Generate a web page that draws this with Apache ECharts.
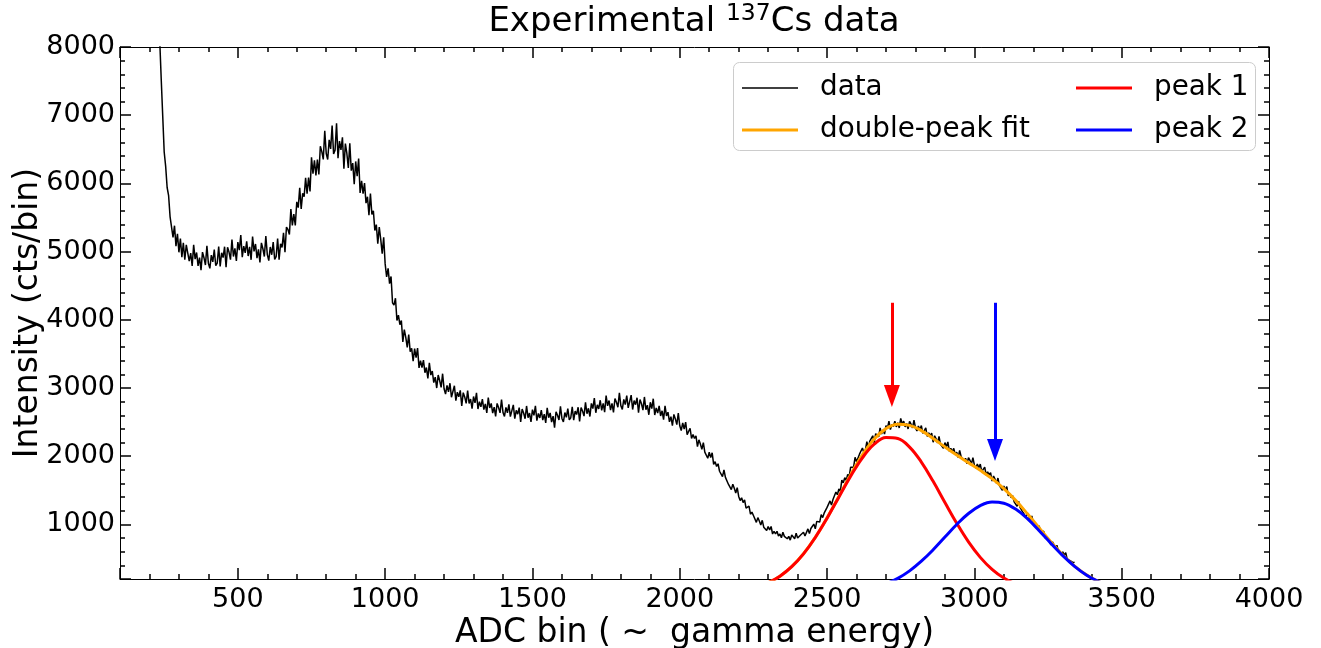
<!DOCTYPE html>
<html>
<head>
<meta charset="utf-8">
<title>Experimental 137Cs data</title>
<script src="https://cdn.jsdelivr.net/npm/echarts@6/dist/echarts.min.js"></script>
<style>
  html, body { margin: 0; padding: 0; background: #fff; }
  #chart { width: 1321px; height: 648px; }
</style>
</head>
<body>
<div id="chart"></div>
<script>
// measured spectrum: counts every 5 ADC bins starting at bin 230
const dataBin0 = 230;
const dataBinStep = 5;
const dataCounts = [
  8600, 8080, 7520, 6990, 6460, 6250, 5940, 5820, 5510, 5520, 5210, 5380, 5080, 5260, 4990, 5190, 4920, 5130, 4880, 5100,
  5075, 4860, 4978, 4789, 5099, 4889, 4987, 4790, 4913, 4729, 4992, 4911, 4803, 5085, 4829, 4754, 4949, 4850, 5031, 4793,
  4832, 5073, 4784, 4984, 4913, 5072, 4770, 5065, 4994, 4881, 5177, 4928, 5047, 4862, 5139, 5021, 5244, 4918, 5081, 4981,
  5152, 4935, 5071, 4880, 5220, 5003, 5112, 4903, 5034, 4843, 5129, 5042, 4928, 5228, 4956, 4869, 5068, 4954, 5140, 4886,
  4925, 5190, 4880, 5115, 5060, 5275, 4990, 5360, 5325, 5250, 5625, 5385, 5550, 5385, 5730, 5645, 5935, 5625, 5855, 5805,
  6082, 5849, 6084, 5882, 6382, 6144, 6338, 6118, 6348, 6131, 6544, 6466, 6352, 6773, 6438, 6350, 6640, 6506, 6850, 6431,
  6485, 6880, 6370, 6621, 6492, 6676, 6214, 6583, 6439, 6228, 6587, 6186, 6298, 5987, 6322, 6106, 6365, 5859, 6037, 5849,
  6005, 5710, 5805, 5535, 5850, 5545, 5600, 5310, 5395, 5115, 5360, 5180, 4970, 5210, 4820, 4630, 4755, 4530, 4635, 4250,
  4215, 4317, 3990, 4069, 3928, 3989, 3676, 3857, 3741, 3597, 3783, 3534, 3582, 3393, 3578, 3444, 3585, 3296, 3403, 3301,
  3410, 3225, 3300, 3140, 3370, 3190, 3250, 3080, 3160, 3000, 3190, 3110, 3010, 3210, 2990, 2910, 3040, 2945, 3070, 2865,
  2882, 3034, 2815, 2938, 2871, 2966, 2737, 2932, 2870, 2774, 2964, 2773, 2839, 2696, 2876, 2782, 2928, 2692, 2799, 2724,
  2838, 2684, 2768, 2634, 2859, 2707, 2775, 2632, 2719, 2585, 2774, 2713, 2635, 2832, 2643, 2583, 2716, 2637, 2761, 2581,
  2605, 2753, 2550, 2674, 2617, 2713, 2504, 2691, 2634, 2550, 2737, 2564, 2633, 2504, 2682, 2599, 2740, 2521, 2627, 2562,
  2676, 2529, 2617, 2489, 2711, 2564, 2634, 2499, 2589, 2420, 2652, 2600, 2531, 2732, 2554, 2502, 2640, 2571, 2699, 2533,
  2564, 2725, 2528, 2662, 2612, 2718, 2511, 2712, 2664, 2588, 2790, 2623, 2703, 2582, 2774, 2699, 2853, 2637, 2753, 2693,
  2821, 2673, 2774, 2645, 2888, 2739, 2817, 2676, 2775, 2644, 2846, 2791, 2718, 2930, 2742, 2687, 2833, 2756, 2890, 2709,
  2737, 2896, 2685, 2816, 2756, 2858, 2637, 2832, 2770, 2676, 2869, 2681, 2749, 2608, 2791, 2698, 2843, 2604, 2709, 2632,
  2737, 2590, 2666, 2536, 2739, 2591, 2646, 2505, 2579, 2447, 2613, 2547, 2464, 2634, 2446, 2377, 2488, 2399, 2499, 2317,
  2340, 2410, 2260, 2320, 2260, 2300, 2140, 2240, 2180, 2100, 2200, 2060, 2080, 1970, 2060, 1980, 2050, 1880, 1920, 1850,
  1890, 1780, 1800, 1700, 1800, 1690, 1700, 1590, 1610, 1510, 1590, 1530, 1460, 1540, 1410, 1350, 1390, 1320, 1360, 1240,
  1230, 1270, 1150, 1180, 1130, 1150, 1030, 1100, 1050, 990, 1060, 960, 980, 910, 970, 920, 970, 860, 900, 860,
  900, 830, 860, 805, 885, 825, 850, 790, 825, 770, 845, 820, 790, 870, 800, 785, 845, 825, 885, 830,
  850, 935, 865, 940, 935, 1005, 935, 1045, 1045, 1035, 1145, 1100, 1165, 1140, 1250, 1250, 1345, 1285, 1365, 1375,
  1475, 1435, 1520, 1485, 1650, 1610, 1685, 1645, 1735, 1700, 1840, 1845, 1840, 1985, 1920, 1920, 2030, 2020, 2120, 2050,
  2090, 2215, 2120, 2220, 2215, 2300, 2195, 2330, 2315, 2285, 2415, 2325, 2385, 2325, 2450, 2410, 2515, 2390, 2465, 2435,
  2515, 2430, 2490, 2415, 2555, 2470, 2515, 2430, 2480, 2400, 2510, 2470, 2415, 2530, 2415, 2370, 2445, 2385, 2450, 2335,
  2340, 2415, 2290, 2345, 2300, 2340, 2205, 2300, 2255, 2195, 2290, 2175, 2200, 2115, 2200, 2140, 2210, 2070, 2115, 2065,
  2115, 2025, 2060, 1980, 2085, 1995, 2020, 1935, 1970, 1890, 1980, 1940, 1885, 1980, 1870, 1825, 1885, 1830, 1885, 1775,
  1775, 1840, 1725, 1770, 1725, 1760, 1635, 1710, 1665, 1605, 1680, 1570, 1585, 1500, 1565, 1505, 1555, 1420, 1450, 1390,
  1420, 1330, 1345, 1265, 1340, 1250, 1260, 1175, 1190, 1110, 1165, 1120, 1060, 1125, 1020, 970, 1005, 950, 980, 880,
  870, 900, 805, 825, 785, 795, 700, 745, 705, 650, 695, 615, 620, 555, 600, 550, 585, 490, 510, 470,
  480, 440, 445
];

// fitted curves
const fitBins = [
  2260, 2300, 2340, 2380, 2420, 2460, 2500, 2540, 2580, 2620,
  2660, 2700, 2740, 2780, 2820, 2860, 2900, 2940, 2980, 3020,
  3060, 3100, 3140, 3180, 3220, 3260, 3300, 3340, 3380, 3420, 3460
];
const doubleFit = [
  84, 146, 242, 381, 570, 811, 1097, 1411, 1730, 2020,
  2253, 2405, 2469, 2453, 2376, 2261, 2137, 2017, 1904, 1793,
  1671, 1525, 1353, 1156, 947, 741, 552, 390, 262, 167, 101
];
const peak1Fit = [
  84, 146, 242, 381, 569, 809, 1092, 1400, 1707, 1977,
  2176, 2275, 2260, 2134, 1915, 1632, 1322, 1018, 744, 517,
  342, 214, 128, 72, 39, 20, 10, 4, 2, 1, 0
];
const peak2Fit = [
  0, 0, 0, 0, 1, 2, 5, 11, 23, 43,
  77, 130, 209, 319, 461, 629, 815, 999, 1160, 1276,
  1329, 1311, 1225, 1084, 908, 721, 542, 386, 260, 166, 101
];

// arrows marking the two peaks
const arrowBins = [2720, 3070];
const arrowTop = [4250, 4250];
const arrowEnd = [2884, 2093];

const FONT = 'DejaVu Sans';

const dataSeries = dataCounts.map((v, i) => [dataBin0 + i * dataBinStep, v]);
const pairs = (ys) => fitBins.map((x, i) => [x, ys[i]]);

// matplotlib style axes: major + minor ticks, pointing in, on all four sides
const xAxisDef = (pos, minor, main) => ({
  type: 'value',
  position: pos,
  min: 100,
  max: 4000,
  splitNumber: minor ? undefined : 8,
  interval: minor ? 100 : undefined,
  axisLine: { show: !minor, onZero: false, lineStyle: { color: '#000', width: 1 } },
  axisTick: { show: true, inside: true, length: minor ? 5 : 11, lineStyle: { color: '#000', width: 1.5 } },
  axisLabel: {
    show: !!main,
    margin: 7,
    color: '#000',
    fontSize: 27,
    fontFamily: FONT,
    formatter: (v) => (v % 500 === 0 ? String(v) : '')
  },
  splitLine: { show: false },
  name: main ? 'ADC bin ( ~  gamma energy)' : '',
  nameLocation: 'middle',
  nameGap: 38,
  nameMoveOverlap: false,
  nameTextStyle: { fontSize: 33, fontFamily: FONT, color: '#000' }
});

const yAxisDef = (pos, minor, main) => ({
  type: 'value',
  position: pos,
  min: 200,
  max: 8000,
  splitNumber: minor ? undefined : 8,
  interval: minor ? 200 : undefined,
  axisLine: { show: !minor, onZero: false, lineStyle: { color: '#000', width: 1 } },
  axisTick: { show: true, inside: true, length: minor ? 5 : 11, lineStyle: { color: '#000', width: 1.5 } },
  axisLabel: {
    show: !!main,
    margin: 5,
    color: '#000',
    fontSize: 27,
    fontFamily: FONT,
    formatter: (v) => (v % 1000 === 0 ? String(v) : '')
  },
  splitLine: { show: false },
  name: main ? 'Intensity (cts/bin)' : '',
  nameLocation: 'middle',
  nameGap: 75,
  nameMoveOverlap: false,
  nameTextStyle: { fontSize: 33, fontFamily: FONT, color: '#000' }
});

// one legend per entry so each sample line can have its own thickness
const legendDef = (name, left, top, thick, color) => ({
  data: [{ name: name, icon: 'rect', itemStyle: { color: color } }],
  left: left,
  top: top,
  padding: 0,
  itemWidth: 56,
  itemHeight: thick,
  selectedMode: false,
  textStyle: { fontSize: 27.8, fontFamily: FONT, color: '#000', padding: [0, 0, 0, 17] }
});

const arrow = (i, color) => ({
  silent: true,
  animation: false,
  symbol: ['none', 'triangle'],
  symbolSize: [16, 22],
  label: { show: false },
  lineStyle: { color: color, width: 3, type: 'solid' },
  emphasis: { disabled: true },
  data: [[
    { coord: [arrowBins[i], arrowTop[i]] },
    { coord: [arrowBins[i], arrowEnd[i]] }
  ]]
});

const chart = echarts.init(document.getElementById('chart'));
chart.setOption({
  animation: false,
  backgroundColor: '#fff',
  title: {
    text: '{a|Experimental }{s|137}{a|Cs data}',
    left: 694,
    textAlign: 'center',
    top: 2,
    padding: 0,
    textStyle: {
      fontWeight: 'normal',
      rich: {
        a: { fontSize: 34, lineHeight: 40, fontFamily: FONT, fontWeight: 'normal', color: '#000' },
        s: { fontSize: 23.5, lineHeight: 40, fontFamily: FONT, fontWeight: 'normal', color: '#000', verticalAlign: 'top' }
      }
    }
  },
  grid: { left: 120, right: 52, top: 47, bottom: 69, containLabel: false, outerBoundsMode: 'none' },
  xAxis: [
    xAxisDef('bottom', false, true),
    xAxisDef('bottom', true, false),
    xAxisDef('top', false, false),
    xAxisDef('top', true, false)
  ],
  yAxis: [
    yAxisDef('left', false, true),
    yAxisDef('left', true, false),
    yAxisDef('right', false, false),
    yAxisDef('right', true, false)
  ],
  legend: [
    legendDef('data', 742, 74, 1.5, '#000'),
    legendDef('double-peak fit', 742, 116, 3, '#ffa500'),
    legendDef('peak 1', 1076, 74, 3, '#ff0000'),
    legendDef('peak 2', 1076, 116, 3, '#0000ff')
  ],
  graphic: [{
    type: 'rect',
    left: 733,
    top: 62,
    silent: true,
    shape: { width: 522, height: 88, r: 6 },
    style: { fill: 'rgba(255,255,255,0.8)', stroke: '#cccccc', lineWidth: 1 }
  }],
  series: [
    {
      name: 'data',
      type: 'line',
      data: dataSeries,
      symbol: 'none',
      showSymbol: false,
      clip: true,
      color: '#000',
      lineStyle: { color: '#000', width: 1.5 }
    },
    {
      name: 'double-peak fit',
      type: 'line',
      data: pairs(doubleFit),
      symbol: 'none',
      smooth: 0.4,
      clip: true,
      color: '#ffa500',
      lineStyle: { color: '#ffa500', width: 3 }
    },
    {
      name: 'peak 1',
      type: 'line',
      data: pairs(peak1Fit),
      symbol: 'none',
      smooth: 0.4,
      clip: true,
      color: '#ff0000',
      lineStyle: { color: '#ff0000', width: 3 },
      markLine: arrow(0, '#ff0000')
    },
    {
      name: 'peak 2',
      type: 'line',
      data: pairs(peak2Fit),
      symbol: 'none',
      smooth: 0.4,
      clip: true,
      color: '#0000ff',
      lineStyle: { color: '#0000ff', width: 3 },
      markLine: arrow(1, '#0000ff')
    }
  ]
});
</script>
</body>
</html>
